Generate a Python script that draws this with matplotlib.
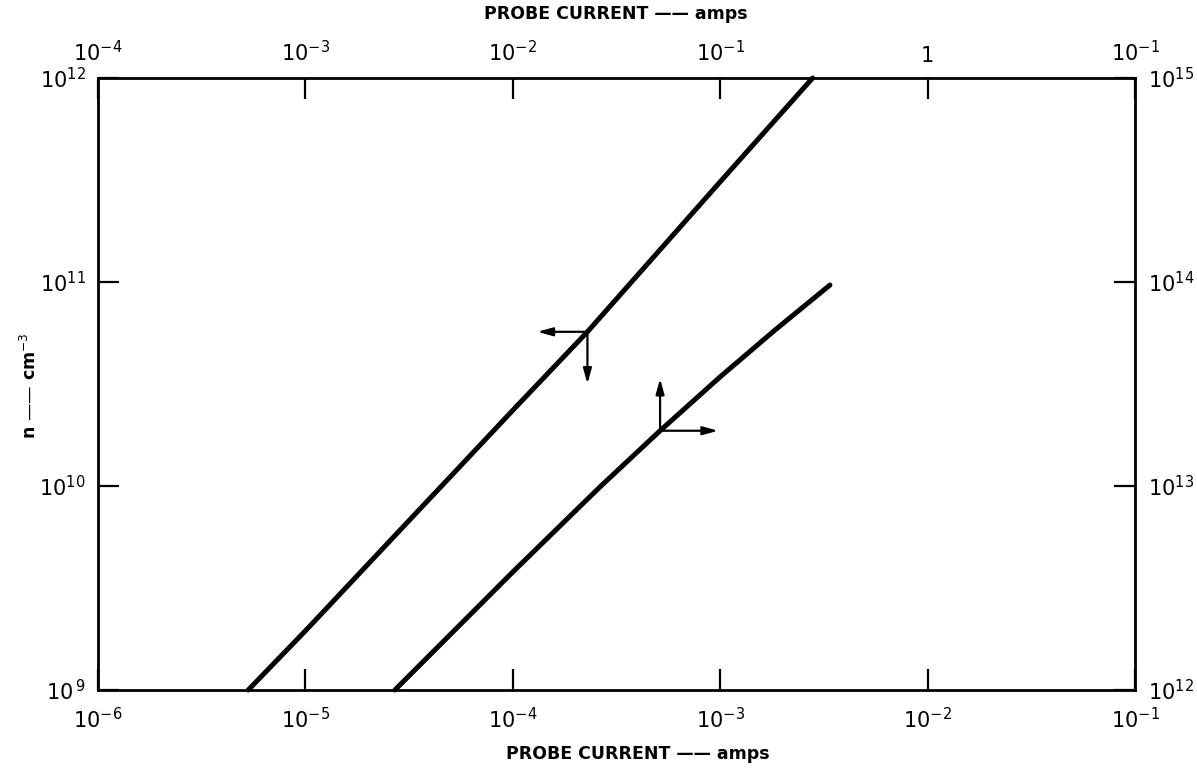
import matplotlib
matplotlib.use('Agg')
import matplotlib.pyplot as plt
from matplotlib.ticker import FixedLocator, FixedFormatter, NullLocator

# curve read against bottom (amps) and left (n, cm^-3) axes
current_low = [5.3e-6, 1.0e-5, 3.0e-5, 1.0e-4, 2.29e-4, 1.0e-3, 2.79e-3]
density_low = [1.0e9, 1.95e9, 6.4e9, 2.35e10, 5.7e10, 3.1e11, 1.0e12]

# curve read against top (amps) and right (n, cm^-3) axes
current_high = [2.70e-3, 1.0e-2, 2.63e-2, 5.13e-2, 0.1, 0.184, 0.338]
density_high = [1.0e12, 3.79e12, 9.89e12, 1.866e13, 3.43e13, 5.82e13, 9.66e13]

# index of the point on each curve where the axis-pointer arrows start
arrow_idx_low = 4
arrow_idx_high = 3

bottom_ticks = [1e-6, 1e-5, 1e-4, 1e-3, 1e-2, 1e-1]
bottom_labels = ['$10^{-6}$', '$10^{-5}$', '$10^{-4}$', '$10^{-3}$', '$10^{-2}$', '$10^{-1}$']
top_ticks = [1e-4, 1e-3, 1e-2, 1e-1, 1e0, 1e1]
top_labels = ['$10^{-4}$', '$10^{-3}$', '$10^{-2}$', '$10^{-1}$', '1', '$10^{-1}$']
left_ticks = [1e9, 1e10, 1e11, 1e12]
left_labels = ['$10^{\\,9}$', '$10^{10}$', '$10^{11}$', '$10^{12}$']
right_ticks = [1e12, 1e13, 1e14, 1e15]
right_labels = ['$10^{12}$', '$10^{13}$', '$10^{14}$', '$10^{15}$']

plt.rcParams['font.family'] = ['DejaVu Sans']
plt.rcParams['mathtext.fontset'] = 'dejavusans'

fig = plt.figure(figsize=(11.97, 7.68), dpi=100)
pos = [98 / 1197, 1 - 690 / 768, (1135 - 98) / 1197, (690 - 78) / 768]
ax = fig.add_axes(pos)
ax2 = fig.add_axes(pos, frameon=False)

ax.set_xscale('log')
ax.set_yscale('log')
ax.set_xlim(1e-6, 1e-1)
ax.set_ylim(1e9, 1e12)
ax2.set_xscale('log')
ax2.set_yscale('log')
ax2.set_xlim(1e-4, 1e1)
ax2.set_ylim(1e12, 1e15)

for s in ax.spines.values():
    s.set_linewidth(2.0)

tick_kw = dict(direction='in', length=15, width=1.6, labelsize=15, color='black')
ax.xaxis.set_major_locator(FixedLocator(bottom_ticks))
ax.xaxis.set_major_formatter(FixedFormatter(bottom_labels))
ax.yaxis.set_major_locator(FixedLocator(left_ticks))
ax.yaxis.set_major_formatter(FixedFormatter(left_labels))
ax.xaxis.set_minor_locator(NullLocator())
ax.yaxis.set_minor_locator(NullLocator())
ax.tick_params(axis='x', pad=12, **tick_kw)
ax.tick_params(axis='y', pad=9, **tick_kw)
ax.tick_params(top=False, right=False)

ax2.xaxis.tick_top()
ax2.yaxis.tick_right()
ax2.xaxis.set_major_locator(FixedLocator(top_ticks))
ax2.xaxis.set_major_formatter(FixedFormatter(top_labels))
ax2.yaxis.set_major_locator(FixedLocator(right_ticks))
ax2.yaxis.set_major_formatter(FixedFormatter(right_labels))
ax2.xaxis.set_minor_locator(NullLocator())
ax2.yaxis.set_minor_locator(NullLocator())
ax2.tick_params(axis='x', pad=9, **tick_kw)
ax2.tick_params(axis='y', pad=9, **tick_kw)

ax.plot(current_low, density_low, color='black', lw=3.6, solid_capstyle='round',
        solid_joinstyle='round', clip_on=False)
ax2.plot(current_high, density_high, color='black', lw=3.6, solid_capstyle='round',
         solid_joinstyle='round', clip_on=False)

# pointers: left/down for the bottom-left scales, up/right for the top-right scales
arrow_kw = dict(arrowstyle='-|>,head_length=0.9,head_width=0.25', color='black', lw=1.6,
                shrinkA=0, shrinkB=0)
pointers = [
    (ax, current_low[arrow_idx_low], density_low[arrow_idx_low], -50, 0),
    (ax, current_low[arrow_idx_low], density_low[arrow_idx_low], 0, -52),
    (ax2, current_high[arrow_idx_high], density_high[arrow_idx_high], 0, 52),
    (ax2, current_high[arrow_idx_high], density_high[arrow_idx_high], 58, 0),
]
for a, x0, y0, dx, dy in pointers:
    px, py = a.transData.transform((x0, y0))
    tip = a.transData.inverted().transform((px + dx, py + dy))
    a.annotate('', xy=tip, xytext=(x0, y0), arrowprops=arrow_kw)

fig.text(616 / 1197, 1 - 14 / 768, 'PROBE CURRENT —— amps', ha='center', va='center',
         fontsize=12.5, fontweight='bold')
fig.text(638 / 1197, 1 - 754 / 768, 'PROBE CURRENT —— amps', ha='center', va='center',
         fontsize=12.5, fontweight='bold')
fig.text(30 / 1197, 1 - 386 / 768, 'n —— cm$^{-3}$', ha='center', va='center',
         rotation=90, fontsize=12.5, fontweight='bold')

fig.savefig('out.png', dpi=100)
